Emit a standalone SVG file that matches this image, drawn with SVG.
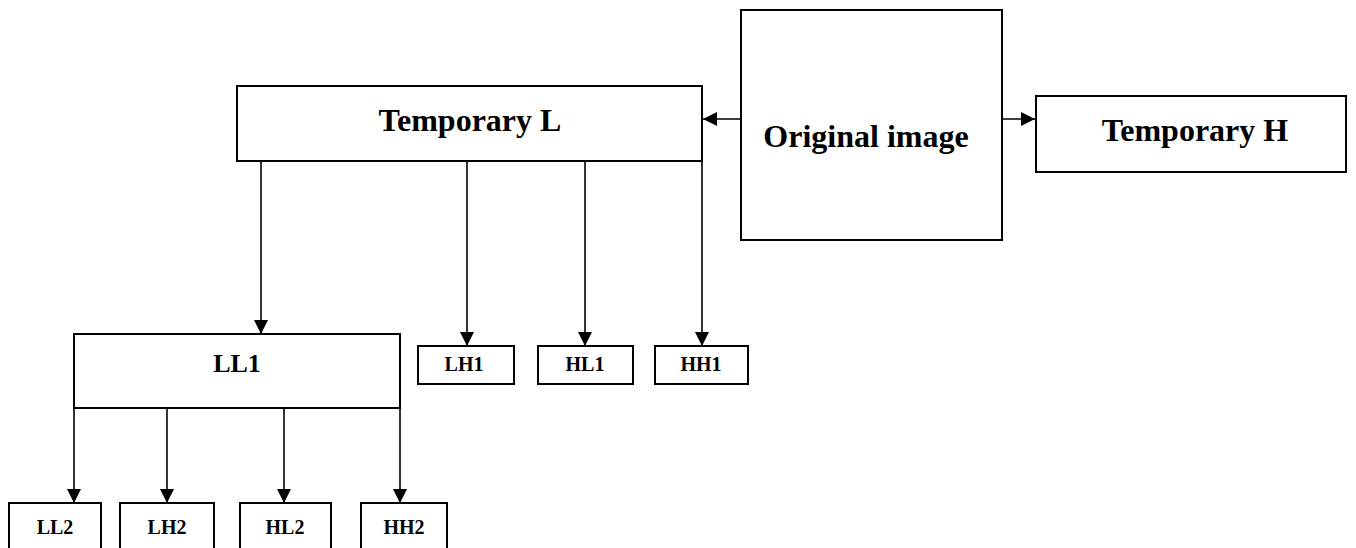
<svg xmlns="http://www.w3.org/2000/svg" width="1356" height="548" viewBox="0 0 1356 548">
<style>
.box{fill:#fff;stroke:#000;stroke-width:2}
.lbl{font-family:"Liberation Serif","Times New Roman",serif;font-weight:bold;fill:#000;text-anchor:middle}
.big{font-size:32px}
.mid{font-size:26px}
.sm{font-size:20px}
.con{stroke:#000;stroke-width:1.6;fill:none}
</style>
<defs>
<marker id="ah" viewBox="0 0 14 14" refX="14" refY="7" markerWidth="14" markerHeight="14" markerUnits="userSpaceOnUse" orient="auto">
<path d="M0,0 L14,7 L0,14 Z" fill="#000"/>
</marker>
</defs>
<rect width="1356" height="548" fill="#fff"/>
<g id="connectors">
<line class="con" x1="741" y1="119" x2="703" y2="119" marker-end="url(#ah)"/>
<line class="con" x1="1002" y1="119" x2="1035" y2="119" marker-end="url(#ah)"/>
<line class="con" x1="261" y1="161" x2="261" y2="334" marker-end="url(#ah)"/>
<line class="con" x1="467" y1="161" x2="467" y2="346" marker-end="url(#ah)"/>
<line class="con" x1="585" y1="161" x2="585" y2="346" marker-end="url(#ah)"/>
<line class="con" x1="702" y1="161" x2="702" y2="346" marker-end="url(#ah)"/>
<line class="con" x1="74" y1="408" x2="74" y2="503" marker-end="url(#ah)"/>
<line class="con" x1="167" y1="408" x2="167" y2="503" marker-end="url(#ah)"/>
<line class="con" x1="284" y1="408" x2="284" y2="503" marker-end="url(#ah)"/>
<line class="con" x1="400" y1="408" x2="400" y2="503" marker-end="url(#ah)"/>
</g>
<g id="original"><rect class="box" x="741" y="10" width="261" height="230"/><text class="lbl big" x="866" y="147">Original image</text></g>
<g id="tempL"><rect class="box" x="237" y="86" width="465" height="75"/><text class="lbl big" x="470" y="131">Temporary L</text></g>
<g id="tempH"><rect class="box" x="1036" y="96" width="310" height="76"/><text class="lbl big" x="1195" y="141">Temporary H</text></g>
<g id="LL1"><rect class="box" x="74" y="334" width="326" height="74"/><text class="lbl mid" x="237" y="372">LL1</text></g>
<g id="LH1"><rect class="box" x="418" y="346" width="96" height="38"/><text class="lbl sm" x="464" y="371">LH1</text></g>
<g id="HL1"><rect class="box" x="538" y="346" width="95" height="38"/><text class="lbl sm" x="585" y="371">HL1</text></g>
<g id="HH1"><rect class="box" x="655" y="346" width="93" height="38"/><text class="lbl sm" x="701" y="371">HH1</text></g>
<g id="LL2"><rect class="box" x="9" y="503" width="92" height="60"/><text class="lbl sm" x="55" y="534">LL2</text></g>
<g id="LH2"><rect class="box" x="120" y="503" width="94" height="60"/><text class="lbl sm" x="167" y="534">LH2</text></g>
<g id="HL2"><rect class="box" x="240" y="503" width="91" height="60"/><text class="lbl sm" x="285" y="534">HL2</text></g>
<g id="HH2"><rect class="box" x="361" y="503" width="86" height="60"/><text class="lbl sm" x="404" y="534">HH2</text></g>
</svg>
